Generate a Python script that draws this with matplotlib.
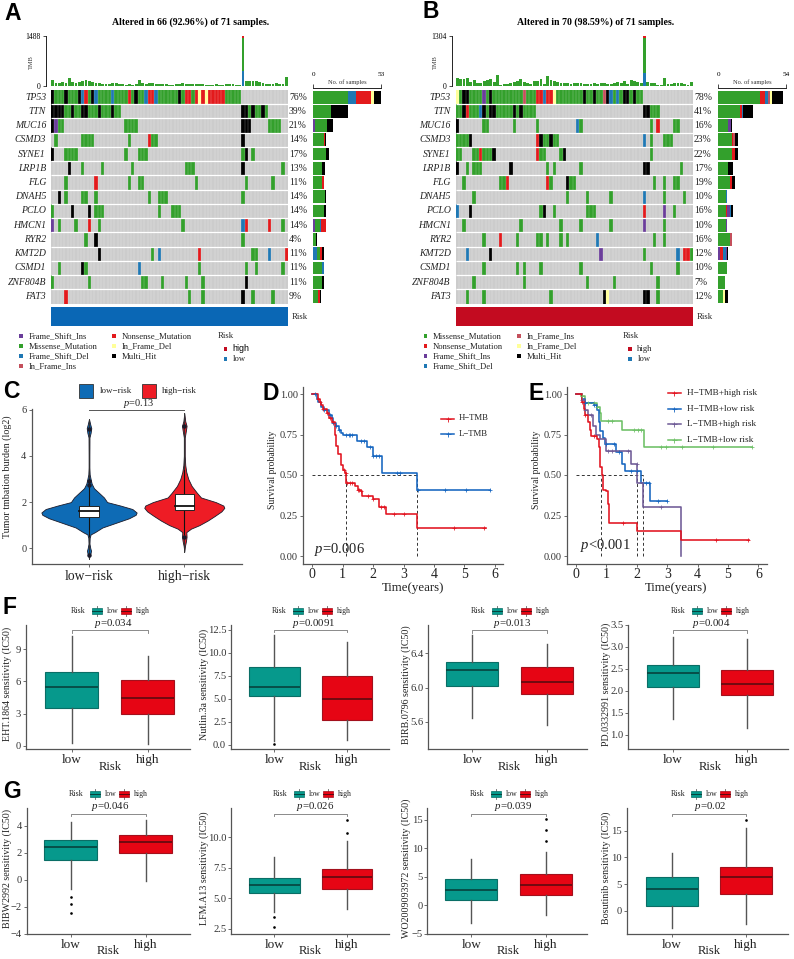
import re
import numpy as np
import matplotlib
matplotlib.use('Agg')
import matplotlib.pyplot as plt
from matplotlib.colors import ListedColormap
from matplotlib.patches import Rectangle

plt.rcParams['font.family'] = ['Liberation Serif', 'DejaVu Serif']
plt.rcParams['mathtext.fontset'] = 'custom'
plt.rcParams['mathtext.rm'] = 'Liberation Serif'
plt.rcParams['mathtext.it'] = 'Liberation Serif:italic'
plt.rcParams['axes.unicode_minus'] = True

# ---------------- DATA ----------------
genes_a = ['TP53','TTN','MUC16','CSMD3','SYNE1','LRP1B','FLG','DNAH5','PCLO','HMCN1','RYR2','KMT2D','CSMD1','ZNF804B','FAT3']
genes_b = genes_a
pct_a = ['76%','39%','21%','14%','17%','13%','11%','14%','14%','14%','4%','11%','11%','11%','9%']
pct_b = ['78%','41%','16%','23%','22%','17%','19%','10%','16%','10%','16%','12%','10%','7%','12%']

# M missense, F frame-shift del, S frame-shift ins, N nonsense, I in-frame ins, Y in-frame del, H multi-hit
onco_a = [
 "H0 M1-3 H4 M5-7 H8 F9 N10 M11 H12 F13 M14-17 F18 M19-22 N23 M24 H25 M26-27 F28 N29-30 F31 M32-37 H38 M39 N40-41 M42 N43 Y44 N45 Y46 N47-51 M52-56",
 "H0-3 M4-5 H6 M7-8 H9-10 M11-13 H14 M15-17 H18 M19-20 H57-58 M59 H60 M61-62 H63 M64",
 "H0 S1 M2-3 M22-25 H57-59 M65-68",
 "M1 M9-12 M23 N29 M30-31 H57",
 "H0 M4-7 M22 M26-28 M57 H58 M60",
 "H5 M9 M15 M24 M40-42 H57 M69",
 "M4 N13 M23 M26-27 M43 M58 M66",
 "H2 M4 M9-10 M13 M29 M32-34 M57",
 "M0 H6 H11 M13-15 M32 M36-38",
 "S0 M2 M7 N11 M14 M39 F57 N58 N65 M69",
 "M10 H13 M57",
 "H14 M30 F32 N44 M60-61 F65 N70",
 "M2 H9 M10 F26 M44 M58 M61 M69",
 "M0 M11 M27-28 M33 M40 M45 H58",
 "N4 M41 M45 H57 M60 M66",
]
onco_b = [
 "Y0 M1 H2-3 M4-7 S8 M9 H10 M11-19 I20 M21-23 N24-25 F26 N27-28 Y29 M30-37 H38 M39-40 H41 M42-43 I44 H45 F46 M47 F48 M49 H50-51 M52 H53 M54-55",
 "M0-1 H2 N3 M4-6 F7 H8 M9 H10-11 M12-16 H17 M18 H19 M20-23 H56-57 M58-60",
 "H0 M8-9 M17 M24 F36 M37 M58 N60 M65-66",
 "M0-3 H4 N24 H25 M26-27 H28 M29-30 F56 M58 M62-64",
 "M0-1 M5-6 N7 M8-10 H11 N24 M25-26 M31 H32 M58",
 "H0 M3 M5-7 H16 M27 M29 M37 H56-57 M67",
 "M2 M13-14 N15 N27 M28 H33 M34-35 M59 M62 M65-66",
 "M5 M33 M39 M46 F56 M62 M68",
 "F0 H4 M25 H26 M29 M39-41 N56 S62 M65",
 "M2 M19 M31 M37 M46 S56 M62",
 "M8 N13 M18 M24-25 M27 M31 M33 F42 M59 M62",
 "F3 H10 S43 M56 F66 N68-69 M70",
 "M8 M18 M20 M25 M37 M58 M66",
 "M5 M20 M39 M47 M60",
 "M3 M8 M28 H44 Y45 H56-57 M60",
]
# side-bar counts per gene, in drawing order (code, count)
side_a = [
 [('M',27),('F',6),('N',12),('Y',2),('H',6)], [('M',14),('H',13)], [('S',1),('M',10),('H',4)],
 [('M',8),('N',1),('H',1)], [('M',10),('H',2)], [('M',7),('H',2)], [('M',7),('N',1)], [('M',9),('H',1)],
 [('M',8),('H',2)], [('S',1),('M',4),('F',1),('N',4)], [('M',2),('H',1)], [('F',3),('M',2),('N',2),('H',1)],
 [('M',7),('F',1)], [('M',7),('H',1)], [('M',4),('N',1),('H',1)],
]
side_b = [
 [('M',33),('N',4),('F',3),('I',1),('Y',2),('H',9)], [('M',17),('N',2),('F',1),('H',8)], [('M',8),('S',2),('H',1)],
 [('M',11),('N',1),('I',1),('H',3)], [('M',11),('N',2),('H',3)], [('M',8),('H',4)], [('M',9),('N',2),('H',2)],
 [('M',6),('F',1)], [('M',6),('N',1),('S',2),('F',1),('H',2)], [('M',6),('S',1)], [('M',9),('I',2)],
 [('S',1),('N',3),('F',2),('S',1),('H',1)], [('M',7)], [('M',5)], [('M',4),('Y',1),('H',3)],
]
tmb_a = [180,100,100,130,100,230,120,100,120,160,180,160,110,100,90,70,60,60,80,80,70,60,40,50,40,60,170,80,70,90,80,60,60,50,50,30,40,70,60,80,50,50,60,50,60,50,30,40,30,60,40,40,60,60,50,40,30,1488,160,150,150,150,120,90,60,60,70,90,70,50,280]
tmb_b = [220,175,175,215,105,155,85,85,120,155,175,105,285,35,45,60,70,115,140,175,105,85,55,130,130,190,45,260,155,120,105,85,85,70,50,85,80,70,45,50,50,70,50,70,70,50,60,85,95,70,140,50,155,130,105,90,1304,105,70,70,20,20,205,60,40,70,85,70,50,25,105]
tmb_a_fsd_top = (57, 450, 50)   # sample, frame-shift part, nonsense part
tmb_b_fsd_top = (56, 350, 45)

leg_a1 = [('S','Frame_Shift_Ins'),('M','Missense_Mutation'),('F','Frame_Shift_Del'),('I','In_Frame_Ins')]
leg_a2 = [('N','Nonsense_Mutation'),('Y','In_Frame_Del'),('H','Multi_Hit')]
leg_b1 = [('M','Missense_Mutation'),('N','Nonsense_Mutation'),('S','Frame_Shift_Ins'),('F','Frame_Shift_Del')]
leg_b2 = [('I','In_Frame_Ins'),('Y','In_Frame_Del'),('H','Multi_Hit')]

# violin outlines: value, half width
vio_low_y = [-0.45,-0.3,-0.2,-0.1,0.0,0.2,0.45,0.6,0.7,0.9,1.1,1.3,1.45,1.55,1.7,1.85,2.0,2.2,2.4,2.6,2.8,3.0,3.2,3.5,4.0,4.8,5.0,5.2,5.35,5.6]
vio_low_w = [0,.007,.017,.021,.014,.005,.007,.017,.063,.14,.28,.42,.49,.50,.455,.33,.19,.157,.105,.052,.028,.017,.007,.004,.004,.005,.017,.024,.014,0]
vio_high_y = [-0.15,0.1,0.3,0.5,0.7,0.85,1.0,1.2,1.4,1.6,1.75,1.85,2.0,2.2,2.4,2.7,3.0,3.3,3.6,4.0,4.8,5.1,5.3,5.5,5.85]
vio_high_w = [0,.007,.017,.024,.021,.07,.157,.245,.32,.39,.42,.41,.33,.175,.133,.077,.042,.021,.01,.005,.005,.017,.024,.01,0]
vio_low_box = [1.35,1.6,1.85]
vio_high_box = [1.65,1.85,2.35]
vio_low_whisk = [0.55,3.0]
vio_high_whisk = [0.6,3.4]
vio_low_out = [5.15,2.9,2.75,-0.3]
vio_high_out = [5.3,0.5]

# survival curves
d_h_t = [0.1,0.2,0.25,0.3,0.35,0.5,0.55,0.65,0.75,0.8,0.85,0.95,1.0,1.08,1.12,1.4,1.5,1.6,1.65,2.0,2.2,2.42,3.45]
d_h_s = [1.0,.97,.95,.93,.91,.88,.85,.83,.75,.68,.63,.56,.53,.51,.45,.43,.41,.40,.37,.35,.30,.26,.17]
d_h_end = 5.7
d_h_c = [.2,.25,.35,.5,.6,.7,1.05,1.1,1.15,1.25,1.3,1.5,1.55,1.6,1.85,2.0,2.25,2.35,2.7,3.0,4.65,5.65]
d_l_t = [0,.15,.2,.3,.4,.55,.65,.7,.8,.9,.95,1.0,1.47,1.8,2.0,2.28,3.45]
d_l_s = [1.0,.97,.95,.92,.90,.87,.85,.82,.80,.78,.76,.75,.71,.675,.62,.51,.41]
d_l_end = 5.85
d_l_c = [.1,.4,.6,.7,.8,.9,1.1,1.2,1.25,1.3,1.6,1.7,1.9,2.0,2.1,2.2,2.8,2.9,3.47,4.35,5.05,5.85]

e_hh_t = [.1,.2,.25,.3,.4,.45,.5,.7,.75,.8,.85,.9,1.0,1.05,1.1,2.0,3.45]
e_hh_s = [1.0,.95,.91,.87,.83,.78,.74,.72,.67,.55,.5,.41,.40,.32,.205,.155,.10]
e_hh_end = 5.7
e_hh_c = [.2,.3,.6,1.55,4.6,5.65]
e_hl_t = [.1,.2,.3,.6,.7,.75,.8,.9,.95,1.3,1.5,1.6,2.15,2.45]
e_hl_s = [1.0,.97,.945,.93,.90,.83,.77,.73,.69,.645,.57,.525,.45,.34]
e_hl_end = 3.0
e_hl_c = [.3,.6,1.0,1.25,1.4,1.8,2.0,2.3,2.4,2.7,3.0]
e_lh_t = [.1,.2,.3,.4,.55,.65,.8,1.0,1.8,2.02,2.2,3.45]
e_lh_s = [1.0,.96,.90,.87,.80,.75,.72,.65,.57,.45,.30,0.0]
e_lh_end = 3.45
e_lh_c = [.2,.3,.5,1.05,1.2,1.7,2.0,2.8]
e_ll_t = [0,.15,.3,.7,.8,.82,1.5,2.25]
e_ll_s = [1.0,.99,.945,.92,.88,.835,.775,.675]
e_ll_end = 5.8
e_ll_c = [.2,.4,.6,.7,1.05,1.2,1.9,2.05,2.15,2.8,2.95,3.5,4.5,5.8]

# box plots: low whisker, q1, median, q3, high whisker
eht_low, eht_high = [0.3,3.55,5.45,6.9,10.2], [0.15,3.0,4.5,6.15,8.4]
nut_low, nut_high = [0.4,5.3,6.35,8.5,11.9], [0.55,2.7,4.95,7.45,11.2]
nut_low_out = [0.1]
birb_low, birb_high = [5.64,6.02,6.2,6.3,6.61], [5.56,5.93,6.06,6.24,6.51]
pd_low, pd_high = [1.37,2.1,2.41,2.6,3.23], [1.15,1.9,2.15,2.47,3.18]
bibw_low, bibw_high = [-0.7,1.45,2.4,2.95,4.3], [-0.1,2.0,2.8,3.3,4.45]
bibw_low_out = [-1.3,-1.8,-2.5]
lfm_low, lfm_high = [3.9,5.4,6.05,6.7,8.4], [4.1,5.8,6.75,7.4,9.7]
lfm_low_out, lfm_high_out = [3.45,2.6], [10.35,11.45]
wo_low, wo_high = [-3.1,0.85,2.7,4.55,8.2], [-1.7,1.8,3.55,5.45,9.3]
wo_high_out = [11.2,13.2,15.1]
bos_low, bos_high = [-3.2,0.9,4.1,6.35,10.9], [-2.4,3.25,6.35,8.25,15.6]
bos_high_out = [17.1]

# ---------------- STYLE ----------------
W, H = 794, 959
COL = {'.':'#CCCCCC','M':'#33A02C','F':'#1F78B4','S':'#6A3D9A','N':'#E31A1C','I':'#C4505C','Y':'#FFFF99','H':'#000000'}
CODES = list(COL)
BLUE, RED = '#0E6BB5', '#EE1C25'
TEAL, CRIM = '#06998C', '#E60514'
SPINE = '#555555'

fig = plt.figure(figsize=(W/100, H/100), dpi=100)

def axpx(x0, y0, x1, y1, **kw):
    return fig.add_axes([x0/W, 1-y1/H, (x1-x0)/W, (y1-y0)/H], **kw)

ov = axpx(0, 0, W, H)
ov.set_xlim(0, W); ov.set_ylim(H, 0); ov.axis('off'); ov.set_zorder(10)

def T(x, y, s, size=7, ha='left', va='center', **kw):
    ov.text(x, y, s, fontsize=size, ha=ha, va=va, **kw)

def square(x, y, c, s=3.6):
    ov.add_patch(Rectangle((x-s/2, y-s/2), s, s, fc=c, ec='none'))

def parse(row):
    v = np.zeros(71, dtype=int)
    for tok in row.split():
        m = re.match(r'([A-Z])(\d+)(?:-(\d+))?', tok)
        a = int(m.group(2)); b = int(m.group(3) or a)
        v[a:b+1] = CODES.index(m.group(1))
    return v

def oncoplot(x0, x1, spine_off, sx0, sx1, rows, genes, pct, side, tmb, top, title, title_x, nmax, tmbmax, risk_col):
    y0, y1 = 90, 303.5
    ax = axpx(x0, y0, x1, y1)
    mat = np.array([parse(r) for r in rows])
    ax.pcolormesh(np.arange(72), np.arange(16), mat, cmap=ListedColormap([COL[c] for c in CODES]),
                  vmin=-0.5, vmax=len(CODES)-0.5)
    ax.set_xlim(0, 71); ax.set_ylim(15, 0); ax.axis('off')
    ax.vlines(np.arange(1, 71), 0, 15, color='white', lw=0.25, alpha=.6)
    ax.hlines(np.arange(1, 15), 0, 71, color='white', lw=0.9)
    rh = (y1-y0)/15
    for i, g in enumerate(genes):
        T(x0-5, y0+rh*(i+.5), g, 7, ha='right', style='italic', color='#222222')
        T(x1+1, y0+rh*(i+.5), pct[i], 7, color='#222222')
    # TMB
    at = axpx(x0, 36, x1, 86)
    s, fsd, nn = top
    base = np.array(tmb, float)
    bot = np.zeros(71); bot[s] = fsd
    grn = base - bot; grn[s] = tmbmax - fsd - nn
    xs = np.arange(71)+.5
    at.bar(xs, bot, .85, color=COL['F'])
    at.bar(xs, grn, .85, bottom=bot, color=COL['M'])
    at.bar([s+.5], [nn], .85, bottom=[tmbmax-nn], color=COL['N'])
    at.set_xlim(0, 71); at.set_ylim(0, tmbmax)
    for k in ('top','right','bottom'):
        at.spines[k].set_visible(False)
    at.spines['left'].set_position(('outward', spine_off*.72))
    at.spines['left'].set_linewidth(.6)
    at.set_xticks([]); at.set_yticks([0, tmbmax])
    at.tick_params(axis='y', labelsize=5.5, length=2.2, width=.5, pad=1.5)
    T(x0-20, 62, 'TMB', 4.6, ha='center', rotation=90, color='#333333')
    # side bars
    a2 = axpx(sx0, y0, sx1, y1)
    for i, st in enumerate(side):
        left = 0
        for c, n in st:
            a2.barh(i+.5, n, .9, left=left, color=COL[c])
            left += n
    a2.set_xlim(0, nmax); a2.set_ylim(15, 0)
    for k in ('left','right','bottom'):
        a2.spines[k].set_visible(False)
    a2.spines['top'].set_position(('outward', 1.5))
    a2.spines['top'].set_linewidth(.6)
    a2.set_yticks([])
    a2.xaxis.tick_top()
    a2.set_xticks([0, nmax])
    a2.tick_params(axis='x', labelsize=5.2, length=3, width=.5, pad=5)
    T((sx0+sx1)/2, 82.3, 'No. of samples', 4.6, ha='center', color='#333333')
    T(title_x, 22.5, title, 7.1, ha='center', weight='bold')
    # risk bar
    ov.add_patch(Rectangle((x0, 307.3), x1-x0, 18.4, fc=risk_col, ec='none'))
    T(x1+4, 317, 'Risk', 6.3, color='#222222')

oncoplot(51, 288, 5, 313.3, 381.3, onco_a, genes_a, pct_a, side_a, tmb_a, tmb_a_fsd_top,
         'Altered in 66 (92.96%) of 71 samples.', 191, 53, 1488, '#0A67B5')
oncoplot(455.7, 693, 4, 718.3, 786, onco_b, genes_b, pct_b, side_b, tmb_b, tmb_b_fsd_top,
         'Altered in 70 (98.59%) of 71 samples.', 596, 54, 1304, '#C30B20')

def onco_legend(col1, col2, xs1, xs2, xr):
    ys = [336, 346, 356, 366]
    for (c, s), y in zip(col1, ys):
        square(xs1, y, COL[c]); T(xs1+7.3, y, s, 6.2, color='#222222')
    for (c, s), y in zip(col2, ys):
        square(xs2, y, COL[c]); T(xs2+7.3, y, s, 6.2, color='#222222')
    T(xr, 335.6, 'Risk', 6.3, color='#222222')
    square(xr+7.3, 348.7, '#C30B20'); square(xr+7.3, 358.7, '#1F78B4')
onco_legend(leg_a1, leg_a2, 21, 114, 218)
T(232.5, 348.7, 'high', 6.4, family='Liberation Sans')
T(232.5, 358.7, 'low', 6.2, color='#222222')
onco_legend(leg_b1, leg_b2, 425.3, 519, 622.7)
T(637.3, 348.7, 'high', 6.2, color='#222222')
T(637.3, 358.7, 'low', 6.2, color='#222222')

for s, x, y in [('A',4,13.5),('B',422,11.5),('C',3,391),('D',263,394),('E',528,393),('F',3,607),('G',3,791)]:
    T(x, y, s, 16.5, family='Liberation Sans', weight='bold', ha='left', va='center')

def clean(ax, lw=.9):
    for k in ('top','right'):
        ax.spines[k].set_visible(False)
    for k in ('left','bottom'):
        ax.spines[k].set_linewidth(lw); ax.spines[k].set_color(SPINE)

# ---------------- panel C ----------------
c0, c1 = 89, 184.3
s = c1-c0
axC = axpx(32, 409, 242, 564)
axC.set_xlim((32-c0)/s, (242-c0)/s)
axC.set_ylim((548.3-564)/23.1, (548.3-409)/23.1)
clean(axC)
for pos, yy, ww, col, bx, wh, out in [
    (0, vio_low_y, vio_low_w, BLUE, vio_low_box, vio_low_whisk, vio_low_out),
    (1, vio_high_y, vio_high_w, RED, vio_high_box, vio_high_whisk, vio_high_out)]:
    yy, ww = np.array(yy), np.array(ww)
    axC.fill_betweenx(yy, pos-ww, pos+ww, color=col, ec='#1a1a2a', lw=.6, zorder=2)
    axC.plot([pos, pos], [yy[0], yy[-1]], color='#333333', lw=.7, zorder=3)
    axC.plot([pos, pos], wh, color='#111111', lw=.8, zorder=3)
    axC.add_patch(Rectangle((pos-.1, bx[0]), .2, bx[2]-bx[0], fc='white', ec='#222222', lw=.7, zorder=4))
    axC.plot([pos-.1, pos+.1], [bx[1], bx[1]], color='#111111', lw=1.3, zorder=5)
    axC.plot([pos]*len(out), out, 'o', ms=2.2, color='#1a1a2a', zorder=4)
axC.plot([0, 1], [6.0, 6.0], color='#555555', lw=.7, clip_on=False)
axC.set_xticks([0, 1]); axC.set_xticklabels(['low\u2212risk', 'high\u2212risk'], fontsize=9.8, color='#222222')
axC.set_yticks([0, 2, 4, 6])
axC.tick_params(axis='y', labelsize=7.5, length=2, width=.6, color=SPINE, labelcolor='#333333', pad=2)
axC.tick_params(axis='x', length=2, width=.6, color=SPINE, pad=2)
T(7, 477, 'Tumor tmbation burden (log2)', 7.2, ha='center', rotation=90, color='#222222')
T(138.5, 404, r'$\mathit{p}$=0.13', 7.5, ha='center', color='#222222')
ov.add_patch(Rectangle((79, 383.5), 14.3, 14.3, fc=BLUE, ec='#333333', lw=.6))
T(99.5, 391, 'low\u2212risk', 6.5, color='#222222')
ov.add_patch(Rectangle((141.5, 383.5), 14.3, 14.3, fc=RED, ec='#333333', lw=.6))
T(161.7, 391, 'high\u2212risk', 6.5, color='#222222')

# ---------------- survival ----------------
def km(ax, t, sv, end, cens, col):
    t = np.array(t); sv = np.array(sv)
    tt = np.r_[0, t, end] if t[0] > 0 else np.r_[t, end]
    ss = np.r_[1.0, sv, sv[-1]] if t[0] > 0 else np.r_[sv, sv[-1]]
    ax.step(tt, ss, where='post', color=col, lw=1.15, zorder=3)
    idx = np.searchsorted(tt, cens, side='right')-1
    ax.plot(cens, ss[idx], '+', color=col, ms=3.4, mew=.55, zorder=4)

def km_axes(x0, x1, x_zero, pxyr):
    ax = axpx(x0, 386.5, x1, 564.3)
    ax.set_xlim((x0-x_zero)/pxyr, (x1-x_zero)/pxyr)
    ax.set_ylim((556-564.3)/162, (556-386.5)/162)
    clean(ax)
    ax.set_xticks(range(7)); ax.set_yticks([0, .25, .5, .75, 1.0])
    ax.set_yticklabels(['0.00', '0.25', '0.50', '0.75', '1.00'])
    ax.tick_params(axis='x', labelsize=10, length=2, width=.6, color=SPINE, labelcolor='#222222', pad=1)
    ax.tick_params(axis='y', labelsize=7.5, length=2, width=.6, color=SPINE, labelcolor='#333333', pad=2)
    return ax

def dash(ax, last, verts):
    ax.plot([0, last], [.5, .5], color='#333333', lw=.7, ls=(0, (3, 2.5)), zorder=2)
    for v in verts:
        ax.plot([v, v], [0, .5], color='#333333', lw=.7, ls=(0, (3, 2.5)), zorder=2)

def leg_line(x0, x1, y, col):
    ov.plot([x0, x1], [y, y], color=col, lw=1.1)
    ov.plot([(x0+x1)/2], [y], '+', color=col, ms=3.6, mew=.6)

axD = km_axes(303.3, 503, 312, 30.5)
dash(axD, 3.45, [1.1, 3.45])
km(axD, d_l_t, d_l_s, d_l_end, d_l_c, '#1565C0')
km(axD, d_h_t, d_h_s, d_h_end, d_h_c, '#E2131F')
T(272.7, 470, 'Survival probability', 6.9, ha='center', rotation=90, color='#222222')
T(413, 587.5, 'Time(years)', 9.3, ha='center', color='#222222')
T(314, 549, r'$\mathit{p}$=0.006', 10.5, color='#222222')
leg_line(441, 454, 418.5, '#E2131F'); T(458.5, 418.5, 'H\u2212TMB', 6.3, color='#222222')
leg_line(441, 454, 434, '#1565C0'); T(458.5, 434, 'L\u2212TMB', 6.3, color='#222222')

axE = km_axes(567.3, 767, 576, 30.4)
dash(axE, 2.2, [.83, 2.02, 2.2])
km(axE, e_ll_t, e_ll_s, e_ll_end, e_ll_c, '#6DC066')
km(axE, e_hl_t, e_hl_s, e_hl_end, e_hl_c, '#1565C0')
km(axE, e_lh_t, e_lh_s, e_lh_end, e_lh_c, '#6E5A96')
km(axE, e_hh_t, e_hh_s, e_hh_end, e_hh_c, '#E2131F')
T(536.5, 470, 'Survival probability', 6.9, ha='center', rotation=90, color='#222222')
T(676, 587.5, 'Time(years)', 9.3, ha='center', color='#222222')
T(580, 545, r'$\mathit{p}$<0.001', 10.5, color='#222222')
for y, c, lab in [(393.3,'#E2131F','H\u2212TMB+high risk'),(409,'#1565C0','H\u2212TMB+low risk'),
                  (424.3,'#6E5A96','L\u2212TMB+high risk'),(440.3,'#6DC066','L\u2212TMB+low risk')]:
    leg_line(667.7, 680.7, y, c); T(686.7, y, lab, 6.7, color='#222222')

# ---------------- box plots ----------------
def boxpanel(x0, x1, ytop, ybot, c0, c1, ylim, ticks, ticklabels, low, high, low_out, high_out, bracket,
             ylab, ylab_x, p, p_x, key_x):
    ax = axpx(x0, ytop, x1, ybot)
    s = c1-c0
    ax.set_xlim((x0-c0)/s, (x1-c0)/s); ax.set_ylim(*ylim)
    clean(ax)
    def st(v, o):
        return dict(whislo=v[0], q1=v[1], med=v[2], q3=v[3], whishi=v[4], fliers=o)
    b = ax.bxp([st(low, low_out), st(high, high_out)], positions=[0, 1], widths=.7, patch_artist=True,
               showcaps=False, manage_ticks=False,
               flierprops=dict(marker='o', ms=1.9, mfc='black', mec='black', mew=0),
               whiskerprops=dict(color='#555555', lw=1.0),
               medianprops=dict(lw=1.2))
    for bx, fc, ec, mc, med in zip(b['boxes'], (TEAL, CRIM), ('#0A6E66', '#A3101C'), ('#07423D', '#5C0A10'), b['medians']):
        bx.set_facecolor(fc); bx.set_edgecolor(ec); bx.set_linewidth(.8)
        med.set_color(mc)
    rng = ylim[1]-ylim[0]
    tip = rng*.02
    ax.plot([0, 0, 1, 1], [bracket-tip, bracket, bracket, bracket-tip], color='#777777', lw=.6, clip_on=False)
    ax.set_xticks([0, 1]); ax.set_xticklabels(['low', 'high'], fontsize=9.5, color='#222222')
    ax.set_yticks(ticks); ax.set_yticklabels(ticklabels)
    ax.tick_params(axis='y', labelsize=7.6, length=2, width=.6, color=SPINE, labelcolor='#333333', pad=1.5)
    ax.tick_params(axis='x', length=2, width=.6, color=SPINE, pad=1.5)
    yc = (ytop+ybot)/2
    T(ylab_x, yc-3, ylab, 7.2, ha='center', rotation=90, color='#222222')
    T((c0+c1)/2, ybot+17.5, 'Risk', 9, ha='center', color='#222222')
    T(p_x, ytop-1.5, r'$\mathit{p}$=' + p, 7.8, ha='center', color='#222222', zorder=6)
    ky = ytop-14
    T(key_x, ky, 'Risk', 5.8, ha='center', color='#222222')
    for kx, fc, ec, mc, lab in [(key_x+18.5, TEAL, '#0A6E66', '#07423D', 'low'), (key_x+47.5, CRIM, '#A3101C', '#5C0A10', 'high')]:
        ov.plot([kx, kx], [ky-4.8, ky+4.8], color='#666666', lw=.6)
        ov.add_patch(Rectangle((kx-4.8, ky-3.3), 9.6, 6.6, fc=fc, ec=ec, lw=.5, zorder=3))
        ov.plot([kx-4.8, kx+4.8], [ky, ky], color=mc, lw=.7, zorder=4)
        T(kx+10, ky, lab, 5.6, color='#222222')

top1, bot1, top2, bot2 = 625, 749.3, 808, 934
boxpanel(26, 190, top1, bot1, 71.7, 147.7, (-0.31, 11.24), [0,3,6,9], ['0','3','6','9'], eht_low, eht_high, [], [], 10.77,
         'EHT.1864 sensitivity (IC50)', 7, '0.034', 113, 78.5)
boxpanel(231, 389, top1, bot1, 274.3, 347, (-0.47, 13.04), [0,2.5,5,7.5,10,12.5], ['0.0','2.5','5.0','7.5','10.0','12.5'], nut_low, nut_high, nut_low_out, [], 12.5,
         'Nutlin.3a sensitivity (IC50)', 204, '0.0091', 314, 279.5)
boxpanel(428.3, 586.7, top1, bot1, 472.3, 546.7, (5.28, 6.73), [5.6,6.0,6.4], ['5.6','6.0','6.4'], birb_low, birb_high, [], [], 6.67,
         'BIRB.0796 sensitivity (IC50)', 406, '0.013', 512, 478.5)
boxpanel(628.3, 787.7, top1, bot1, 672.7, 746.7, (0.674, 3.5), [1,1.5,2,2.5,3,3.5], ['1.0','1.5','2.0','2.5','3.0','3.5'], pd_low, pd_high, [], [], 3.38,
         'PD.0332991 sensitivity (IC50)', 605.7, '0.004', 711.7, 678.5)
boxpanel(26.7, 190, top2, bot2, 70.7, 145.7, (-4.02, 5.32), [-4,-2,0,2,4], ['\u22124','\u22122','0','2','4'], bibw_low, bibw_high, bibw_low_out, [], 4.9,
         'BIBW2992 sensitivity (IC50)', 7, '0.046', 110, 76.5)
boxpanel(231, 389, top2, bot2, 274.3, 347, (2.06, 12.42), [2.5,5,7.5,10], ['2.5','5.0','7.5','10.0'], lfm_low, lfm_high, lfm_low_out, lfm_high_out, 11.95,
         'LFM.A13 sensitivity (IC50)', 204, '0.026', 315, 280.5)
boxpanel(427.3, 586.7, top2, bot2, 471.3, 545.7, (-5.05, 17.07), [-5,0,5,10,15], ['\u22125','0','5','10','15'], wo_low, wo_high, [], wo_high_out, 16.07,
         'WO2009093972 sensitivity (IC50)', 406, '0.039', 513, 477.3)
boxpanel(626.7, 787.7, top2, bot2, 671.7, 745.7, (-4.3, 19.25), [0,5,10,15], ['0','5','10','15'], bos_low, bos_high, [], bos_high_out, 18.2,
         'Bosutinib sensitivity (IC50)', 605.7, '0.02', 710, 677.7)

fig.savefig('out.png', dpi=100)
